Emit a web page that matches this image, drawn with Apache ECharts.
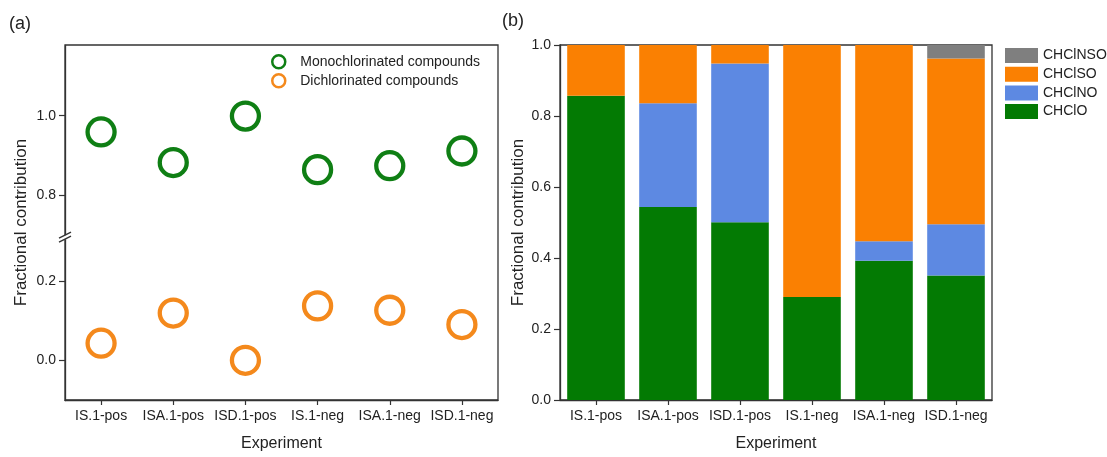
<!DOCTYPE html>
<html>
<head>
<meta charset="utf-8">
<script src="https://cdn.jsdelivr.net/npm/echarts@6/dist/echarts.min.js"></script>
<style>
html,body{margin:0;padding:0;background:#fff;}
#c{width:1107px;height:457px;}
</style>
</head>
<body>
<div id="c"></div>
<script>
var categories = ['IS.1-pos', 'ISA.1-pos', 'ISD.1-pos', 'IS.1-neg', 'ISA.1-neg', 'ISD.1-neg'];
// panel (a)
var monochlorinated = [0.959, 0.882, 0.999, 0.864, 0.874, 0.911];
var dichlorinated = [0.043, 0.119, 0.000, 0.137, 0.126, 0.090];
var leftTicks = [0.0, 0.2, 0.8, 1.0];
// panel (b)
var CHClO = [0.857, 0.544, 0.501, 0.290, 0.392, 0.351];
var CHClNO = [0.000, 0.292, 0.447, 0.000, 0.055, 0.144];
var CHClSO = [0.143, 0.164, 0.052, 0.710, 0.553, 0.467];
var CHClNSO = [0.000, 0.000, 0.000, 0.000, 0.000, 0.038];

var FONT = '"Liberation Sans", Arial, sans-serif';
var AX = '#333333';
var TXT = '#222222';
var GREEN_M = '#0f7f14';
var ORANGE_M = '#f4891c';
var C_GREEN = '#037a03';
var C_BLUE = '#5d89e2';
var C_ORANGE = '#fa8002';
var C_GRAY = '#7f7f7f';

var chart = echarts.init(document.getElementById('c'), null, {renderer: 'canvas'});

function catAxis(gi) {
  return {
    gridIndex: gi,
    type: 'category',
    data: categories,
    boundaryGap: true,
    axisLine: {show: true, onZero: false, lineStyle: {color: AX, width: 1.3}},
    axisTick: {show: true, alignWithLabel: true, length: 5, lineStyle: {color: AX, width: 1.2}},
    axisLabel: {color: TXT, fontSize: 14, fontFamily: FONT, margin: 9, interval: 0},
    name: 'Experiment',
    nameLocation: 'middle',
    nameGap: 36,
    nameTextStyle: {color: TXT, fontSize: 16, fontFamily: FONT},
    splitLine: {show: false}
  };
}

var titleGraphics = [
  {type: 'text', left: 9, top: 15, style: {text: '(a)', fill: TXT, font: '18px ' + FONT}},
  {type: 'text', left: 502, top: 12, style: {text: '(b)', fill: TXT, font: '18px ' + FONT}}
];

var option = {
  animation: false,
  backgroundColor: '#ffffff',
  textStyle: {fontFamily: FONT},
  grid: [
    {left: 65, top: 45, right: 609, bottom: 50, show: true, borderColor: AX, borderWidth: 1.3, containLabel: false},
    {left: 560, top: 45, right: 115, bottom: 49, show: true, borderColor: AX, borderWidth: 1.3, containLabel: false}
  ],
  legend: [
    {
      orient: 'vertical', left: 266, top: 49, itemWidth: 33, itemHeight: 13, itemGap: 3.5,
      icon: 'circle',
      data: ['Monochlorinated compounds', 'Dichlorinated compounds'],
      itemStyle: {color: 'rgba(0,0,0,0)', borderWidth: 2.5, opacity: 1},
      textStyle: {color: TXT, fontSize: 14, fontFamily: FONT, lineHeight: 14}
    },
    {
      orient: 'vertical', left: 1000, top: 43, itemWidth: 33, itemHeight: 15, itemGap: 3.7,
      icon: 'rect',
      data: ['CHClNSO', 'CHClSO', 'CHClNO', 'CHClO'],
      textStyle: {color: TXT, fontSize: 14, fontFamily: FONT, lineHeight: 15}
    }
  ],
  xAxis: [catAxis(0), catAxis(1)],
  yAxis: [
    {
      gridIndex: 0, type: 'value', min: -0.1, max: 1.178,
      breaks: [{start: 0.31, end: 0.694, gap: 0}],
      breakArea: {show: false},
      axisLine: {show: true, lineStyle: {color: AX, width: 1.3}},
      axisTick: {show: true, length: 6, customValues: leftTicks, lineStyle: {color: AX, width: 1.2}},
      axisLabel: {color: TXT, fontSize: 14, fontFamily: FONT, margin: 9, customValues: leftTicks,
        formatter: function (v) { return Number(v).toFixed(1); }},
      splitLine: {show: false},
      name: 'Fractional contribution', nameLocation: 'middle', nameGap: 35,
      nameTextStyle: {color: TXT, fontSize: 17, fontFamily: FONT}
    },
    {
      gridIndex: 1, type: 'value', min: 0, max: 1, interval: 0.2,
      axisLine: {show: true, lineStyle: {color: AX, width: 1.3}},
      axisTick: {show: true, length: 6, lineStyle: {color: AX, width: 1.2}},
      axisLabel: {color: TXT, fontSize: 14, fontFamily: FONT, margin: 9,
        formatter: function (v) { return Number(v).toFixed(1); }},
      splitLine: {show: false},
      name: 'Fractional contribution', nameLocation: 'middle', nameGap: 33,
      nameTextStyle: {color: TXT, fontSize: 17, fontFamily: FONT}
    }
  ],
  series: [
    {
      name: 'Monochlorinated compounds', type: 'scatter', xAxisIndex: 0, yAxisIndex: 0,
      data: monochlorinated, symbol: 'circle', symbolSize: 27,
      itemStyle: {color: 'rgba(0,0,0,0)', borderColor: GREEN_M, borderWidth: 4.3, opacity: 1}
    },
    {
      name: 'Dichlorinated compounds', type: 'scatter', xAxisIndex: 0, yAxisIndex: 0,
      data: dichlorinated, symbol: 'circle', symbolSize: 27,
      itemStyle: {color: 'rgba(0,0,0,0)', borderColor: ORANGE_M, borderWidth: 4.3, opacity: 1}
    },
    {name: 'CHClO', type: 'bar', stack: 'b', xAxisIndex: 1, yAxisIndex: 1, barWidth: '80%',
      data: CHClO, itemStyle: {color: C_GREEN}},
    {name: 'CHClNO', type: 'bar', stack: 'b', xAxisIndex: 1, yAxisIndex: 1, barWidth: '80%',
      data: CHClNO, itemStyle: {color: C_BLUE}},
    {name: 'CHClSO', type: 'bar', stack: 'b', xAxisIndex: 1, yAxisIndex: 1, barWidth: '80%',
      data: CHClSO, itemStyle: {color: C_ORANGE}},
    {name: 'CHClNSO', type: 'bar', stack: 'b', xAxisIndex: 1, yAxisIndex: 1, barWidth: '80%',
      data: CHClNSO, itemStyle: {color: C_GRAY}}
  ],
  graphic: titleGraphics
};

chart.setOption(option);

// axis break marker "//" on the left y axis
var yb = chart.convertToPixel({yAxisIndex: 0}, 0.31);
var ax0 = 65;
if (isFinite(yb)) {
  chart.setOption({
    graphic: titleGraphics.concat([
      {type: 'rect', shape: {x: ax0 - 4, y: yb - 2, width: 8, height: 4}, style: {fill: '#fff'}, z: 100},
      {type: 'line', shape: {x1: ax0 - 6, y1: yb + 1, x2: ax0 + 6, y2: yb - 5}, style: {stroke: AX, lineWidth: 1.3}, z: 101},
      {type: 'line', shape: {x1: ax0 - 6, y1: yb + 5, x2: ax0 + 6, y2: yb - 1}, style: {stroke: AX, lineWidth: 1.3}, z: 101}
    ])
  }, {replaceMerge: ['graphic']});
}
</script>
</body>
</html>
